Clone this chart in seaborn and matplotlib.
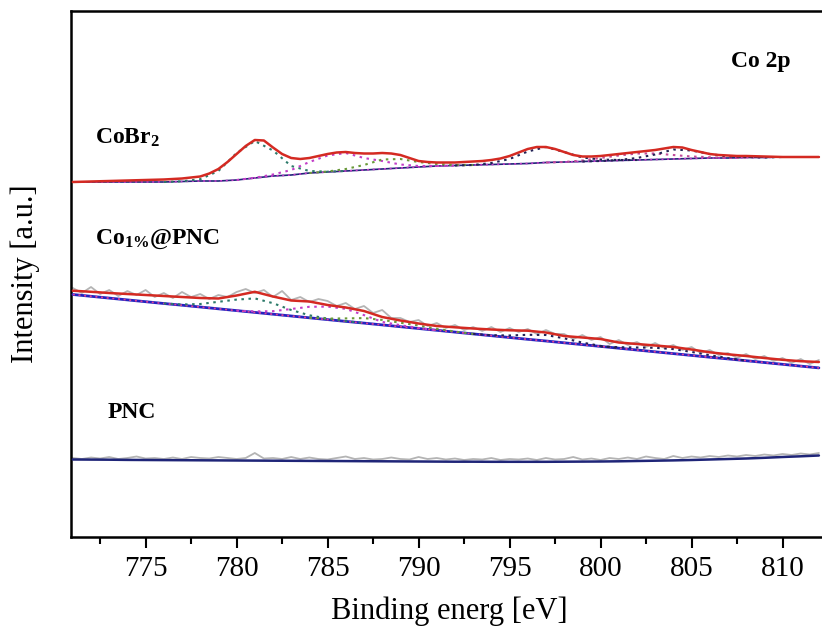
import numpy as np
import matplotlib
matplotlib.use("Agg")
import matplotlib.pyplot as plt
import seaborn as sns

# ---------------- data (binding energy in eV, intensity in a.u.) ----------------
energy = list(range(771, 813))                       # 1 eV grid, 771..812
energy_half = [771 + 0.5 * i for i in range(83)]     # 0.5 eV grid, 771..812

# CoBr2 envelope (own grid)
cobr2_env_e = [771, 772, 773, 774, 775, 776, 777, 777.5, 778, 778.5, 779, 779.5, 780, 780.5,
               781, 781.5, 782, 782.5, 783, 783.5, 784, 784.5, 785, 785.5, 786, 786.5, 787,
               787.5, 788, 788.5, 789, 789.5, 790, 790.5, 791, 791.5, 792, 792.5, 793, 793.5,
               794, 794.5, 795, 795.5, 796, 796.5, 797, 797.5, 798, 798.5, 799, 799.5, 800,
               800.5, 801, 801.5, 802, 802.5, 803, 803.5, 804, 804.5, 805, 805.5, 806, 806.5,
               807, 807.5, 808, 809, 810, 811, 812]
cobr2_env = [355, 355.5, 356, 356.5, 357, 357.5, 358.5, 359.5, 360.5, 363.5, 368, 375, 383, 391,
             397, 396.5, 389.5, 383, 379, 378, 379, 381, 383, 384.5, 385, 384, 383.5,
             383.5, 384, 383.5, 382, 379, 376, 375, 374.5, 374.5, 374.5, 375, 375.5, 376,
             377, 378.5, 381, 384.5, 388, 390, 390, 388, 385, 382, 380.5, 380.5, 381,
             382, 383, 384, 385, 386, 387, 388.5, 390, 389.5, 387, 385, 383, 382,
             381.5, 381, 381, 380.5, 380, 380, 380]
cobr2_bg = [355, 355, 355, 355, 355, 355, 355.5, 356, 356, 357, 359, 361, 362, 364, 365, 366,
            367, 368, 369, 370, 371, 371.5, 372, 372.5, 373, 373.5, 374.5, 375, 375.5, 376,
            376.5, 377, 377.5, 378, 378.5, 379, 379, 379.5, 379.5, 380, 380, 380]
# CoBr2 fitted components
cobr2_p1_e = [776, 777, 778, 779, 780, 781, 782, 783, 784, 785, 786]
cobr2_p1 = [355, 355.7, 357.8, 366, 384, 396, 386.5, 371, 366, 365.3, 366]
cobr2_s1_e = [780, 781, 782, 783, 784, 785, 786, 787, 788, 789, 790, 791, 792]
cobr2_s1 = [357, 359.2, 362.5, 367, 375, 381.5, 384, 379, 376, 372.5, 371, 371, 371.5]
cobr2_s2_e = [784, 785, 786, 787, 788, 789, 790, 791, 792, 793]
cobr2_s2 = [364, 365.5, 368, 372, 377.5, 378, 375, 373, 372, 372]
cobr2_p2_e = [792, 793, 794, 795, 796, 797, 798, 799, 800, 801, 802]
cobr2_p2 = [371.5, 372, 374, 378, 385.5, 390, 385, 379.5, 377.5, 377, 377]
cobr2_s3_e = [797, 798, 799, 800, 801, 802, 803, 804, 805, 806, 807, 808]
cobr2_s3 = [374.5, 375, 376.5, 379, 381.5, 383.5, 383.5, 382, 380.5, 379.8, 379, 379.5]
cobr2_s4_e = [799, 800, 801, 802, 803, 804, 805, 806, 807, 808, 809, 810]
cobr2_s4 = [375.5, 376, 377, 379, 382.5, 387.5, 386.5, 383, 380.5, 380, 379.5, 380]

# Co1%@PNC
co1_env = [246.3, 245.2, 244, 243, 242, 241, 240, 239, 238.5, 241.5, 245.2, 240.5, 236.5, 235.5,
           232, 229.5, 226, 220, 216.5, 213.5, 211, 209.7, 208.5, 207.5, 206.7, 206.3, 204.5,
           201, 199.5, 198, 194.5, 193, 191.5, 190, 187.5, 184.7, 182.7, 181, 179, 177.2,
           175.8, 175]
co1_bg = [242.5, 240.7, 238.9, 237.1, 235.3, 233.5, 231.8, 230.0, 228.2, 226.4, 224.6, 222.8,
          221.0, 219.2, 217.4, 215.6, 213.9, 212.1, 210.3, 208.5, 206.7, 204.9, 203.1, 201.3,
          199.5, 197.7, 196.0, 194.2, 192.4, 190.6, 188.8, 187.0, 185.2, 183.4, 181.6, 179.8,
          178.1, 176.3, 174.5, 172.7, 170.9, 169.1]
co1_raw = [249, 244, 250, 243, 247, 241, 246, 242, 247, 240,
           244, 239, 245, 240, 243, 238, 242, 240, 245, 248,
           244, 247, 240, 246, 237, 240, 235, 238, 236, 231,
           234, 228, 231, 224, 227, 219, 219, 215, 217, 211,
           214, 209, 212, 207, 210, 206, 210, 205, 209, 205,
           208, 203, 207, 203, 203, 198, 202, 197, 200, 193,
           197, 192, 195, 190, 194, 189, 192, 187, 190, 184,
           187, 182, 184, 179, 183, 178, 181, 176, 179, 174,
           178, 173, 177]
co1_p1_e = [776, 777, 778, 779, 780, 781, 782, 783, 784, 785, 786, 787]
co1_p1 = [233.5, 232.5, 233, 235.2, 237.4, 238.6, 233.8, 227, 221.7, 218.4, 215.9, 213.9]
co1_s1_e = [780, 781, 782, 783, 784, 785, 786, 787, 788, 789, 790, 791]
co1_s1 = [226.4, 225.6, 225.8, 228, 230.2, 230.4, 228.1, 221.9, 215.1, 211.8, 209, 206.7]
co1_s2_e = [784, 785, 786, 787, 788, 789, 790, 791, 792, 793]
co1_s2 = [219.2, 218.4, 218.6, 218.9, 217.1, 214.3, 211.5, 208.2, 205.4, 203.1]
co1_p2_e = [793, 794, 795, 796, 797, 798, 799, 800, 801]
co1_p2 = [203.1, 201.8, 201.5, 202.2, 202, 198.7, 194.4, 191.1, 188.8]
co1_s3_e = [800, 801, 802, 803, 804, 805, 806, 807, 808]
co1_s3 = [190.6, 189.8, 189.5, 189.2, 187.9, 185.1, 181.8, 178.9, 176.3]

# PNC
pnc_bg = [77.5, 77.4, 77.3, 77.1, 77, 76.9, 76.8, 76.7, 76.6, 76.5, 76.4, 76.3, 76.2, 76.1,
          76, 75.9, 75.8, 75.7, 75.6, 75.5, 75.4, 75.3, 75.3, 75.2, 75.2, 75.2, 75.2, 75.3,
          75.4, 75.5, 75.7, 76, 76.3, 76.6, 77, 77.5, 78, 78.5, 79.2, 80, 80.7, 81.5]
pnc_raw = [79, 78, 79.5, 78.5, 80, 78, 79, 80.5, 78.5, 79,
           78, 79.5, 78, 80, 79, 78.5, 80, 79, 78, 79,
           84, 78.5, 79, 78, 80, 78, 79.5, 78, 77.5, 79,
           80.5, 78, 79, 77.5, 78, 79.5, 78, 77.5, 80, 78,
           79, 77.5, 78.5, 77, 78, 77.5, 79, 77, 78, 77.5,
           78.5, 77, 79, 77.5, 78, 80, 77.5, 78.5, 77, 79,
           78, 79.5, 78, 80.5, 79, 78, 81, 79, 80.5, 79.5,
           81, 80, 81.5, 80.5, 82, 81, 82.5, 81.5, 83, 82,
           83.5, 82.5, 84]

labels = ["CoBr$_2$", "Co$_{1\\%}$@PNC", "PNC"]
title_text = "Co 2p"
xticks = [775, 780, 785, 790, 795, 800, 805, 810]

# ---------------- style ----------------
sns.set_style("ticks")
plt.rcParams["font.family"] = ["Liberation Serif", "DejaVu Serif"]
plt.rcParams["mathtext.fontset"] = "custom"
plt.rcParams["mathtext.rm"] = "Liberation Serif:bold"
plt.rcParams["mathtext.bf"] = "Liberation Serif:bold"
plt.rcParams["mathtext.default"] = "rm"
plt.rcParams["text.color"] = "black"
plt.rcParams["axes.labelcolor"] = "black"
plt.rcParams["xtick.color"] = "black"
plt.rcParams["ytick.color"] = "black"

W, H = 822, 637
fig = plt.figure(figsize=(W / 100, H / 100), dpi=100)
ax = fig.add_axes([71 / W, 100 / H, 757 / W, 526 / H])

RED = "#d42a22"
GRAY = "#b4b4b4"
BLUE = "#2323c0"
NAVY = "#1f2578"
TEAL = "#2c7a6a"
MAG = "#c23ec8"
OLIVE = "#6a9a3a"
DARK = "#222255"
PINK = "#c04a9a"
dots = (0, (1.2, 2.2))

def line(x, y, color, lw=1.5, ls="-", z=2):
    sns.lineplot(x=x, y=y, ax=ax, color=color, lw=lw, linestyle=ls, estimator=None,
                 zorder=z, legend=False)

# PNC
line(energy_half, pnc_raw, GRAY, lw=1.3, z=2)
line(energy, pnc_bg, NAVY, lw=1.8, z=3)

# Co1%@PNC
line(energy_half, co1_raw, GRAY, lw=1.3, z=2)
line(energy, co1_bg, BLUE, lw=2.0, z=3)
line(energy, co1_bg, "#e0409a", lw=1.2, ls=dots, z=4)
line(co1_p1_e, co1_p1, TEAL, lw=1.5, ls=dots, z=4)
line(co1_s1_e, co1_s1, MAG, lw=1.5, ls=dots, z=4)
line(co1_s2_e, co1_s2, OLIVE, lw=1.5, ls=dots, z=4)
line(co1_p2_e, co1_p2, DARK, lw=1.5, ls=dots, z=4)
line(co1_s3_e, co1_s3, DARK, lw=1.5, ls=dots, z=4)
line(energy, co1_env, RED, lw=1.8, z=5)

# CoBr2
line(energy, cobr2_bg, NAVY, lw=1.2, z=3)
line(energy, cobr2_bg, MAG, lw=1.2, ls=dots, z=4)
line(cobr2_p1_e, cobr2_p1, TEAL, lw=1.5, ls=dots, z=4)
line(cobr2_s1_e, cobr2_s1, MAG, lw=1.5, ls=dots, z=4)
line(cobr2_s2_e, cobr2_s2, OLIVE, lw=1.5, ls=dots, z=4)
line(cobr2_p2_e, cobr2_p2, DARK, lw=1.5, ls=dots, z=4)
line(cobr2_s3_e, cobr2_s3, PINK, lw=1.5, ls=dots, z=4)
line(cobr2_s4_e, cobr2_s4, DARK, lw=1.5, ls=dots, z=4)
line(cobr2_env_e, cobr2_env, RED, lw=1.8, z=5)

# text labels
tkw = dict(fontsize=17, fontweight="bold", color="black", va="center", ha="left")
ax.text(772.2, 399, labels[0], **tkw)
ax.text(772.2, 298, labels[1], **tkw)
ax.text(772.9, 125, labels[2], **tkw)
ax.text(808.8, 475, title_text, fontsize=17, fontweight="bold", ha="center", va="center",
        color="black")

# axes
ax.set_xlim(770.9, 812.2)
ax.set_ylim(0, 526)
ax.set_xticks(xticks)
ax.set_xticks([x + 2.5 for x in [770] + xticks], minor=True)
ax.set_yticks([])
ax.tick_params(axis="x", which="major", direction="out", length=8, width=1.5,
               labelsize=21, pad=6, colors="black")
ax.tick_params(axis="x", which="minor", direction="out", length=5, width=1.5, colors="black")
for s in ["left", "bottom", "top"]:
    ax.spines[s].set_linewidth(1.8)
    ax.spines[s].set_color("black")
ax.spines["right"].set_visible(False)
ax.set_xlabel("Binding energ [eV]", fontsize=22, labelpad=10, color="black")
ax.set_ylabel("Intensity [a.u.]", fontsize=22, labelpad=22, color="black")

fig.savefig("out.png", dpi=100)
